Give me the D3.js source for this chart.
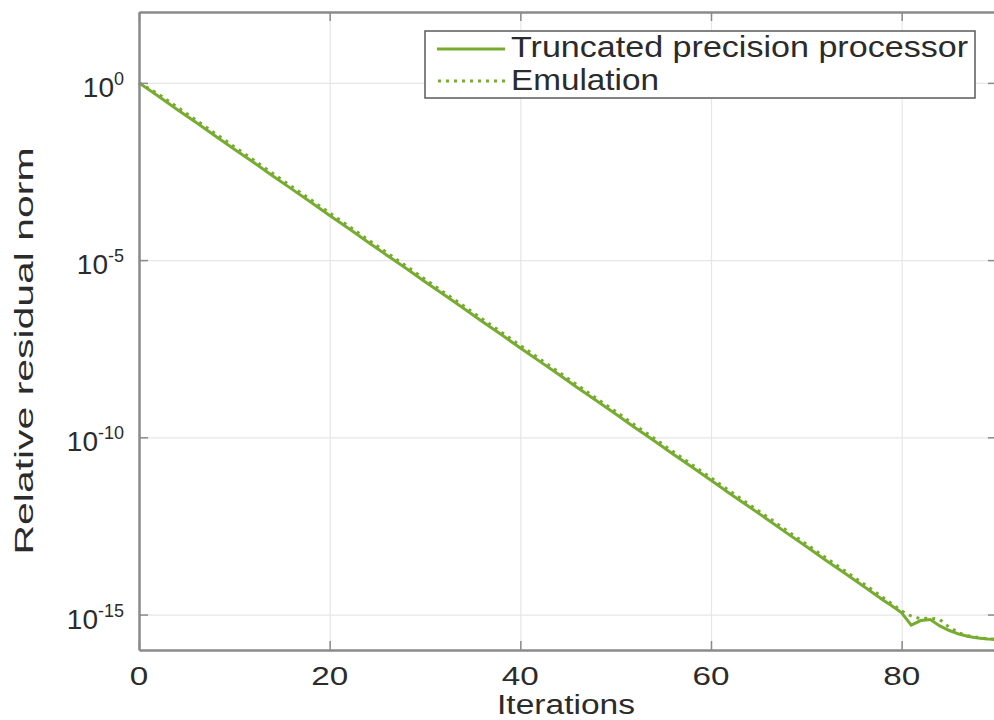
<!DOCTYPE html>
<html>
<head>
<meta charset="utf-8">
<script src="https://cdn.jsdelivr.net/npm/d3@7"></script>
<style>
  html, body { margin: 0; padding: 0; background: #fff; }
  svg { display: block; }
  text { font-family: "Liberation Sans", Arial, Helvetica, sans-serif; fill: #2b2b2b; }
</style>
</head>
<body>
<svg id="chart" width="994" height="720"></svg>
<script>
// ---- data (log10 of relative residual norm) ----
const iterations = [0,2,4,6,8,10,12,14,16,18,20,22,24,26,28,30,32,34,36,38,40,42,44,46,48,50,52,54,56,58,60,62,64,66,68,70,72,74,76,78,79,80,81,82,83,84,85,86,87,88,89,90];
const truncatedLog = [0,-0.37,-0.75,-1.12,-1.50,-1.87,-2.24,-2.62,-2.99,-3.36,-3.74,-4.11,-4.49,-4.86,-5.23,-5.61,-5.98,-6.35,-6.73,-7.10,-7.48,-7.85,-8.22,-8.60,-8.97,-9.34,-9.72,-10.09,-10.47,-10.84,-11.21,-11.59,-11.96,-12.33,-12.71,-13.08,-13.46,-13.83,-14.20,-14.58,-14.76,-14.95,-15.30,-15.17,-15.14,-15.32,-15.45,-15.55,-15.62,-15.66,-15.69,-15.70];
const emulationLog = [0,-0.31,-0.68,-1.05,-1.43,-1.80,-2.17,-2.55,-2.92,-3.29,-3.67,-4.04,-4.42,-4.79,-5.16,-5.54,-5.91,-6.28,-6.66,-7.03,-7.41,-7.78,-8.15,-8.53,-8.90,-9.27,-9.65,-10.02,-10.40,-10.77,-11.14,-11.52,-11.89,-12.26,-12.64,-13.01,-13.39,-13.76,-14.13,-14.51,-14.70,-14.90,-15.04,-15.12,-15.10,-15.14,-15.36,-15.52,-15.60,-15.65,-15.68,-15.70];
const xTicks = [0, 20, 40, 60, 80];
const yTickExponents = [0, -5, -10, -15];
const seriesNames = ["Truncated precision processor", "Emulation"];

const green = "#77ac30";
const svg = d3.select("#chart");

const plotLeft = 139, plotRight = 997, plotTop = 12, plotBottom = 650;
const x = d3.scaleLinear().domain([0, 90]).range([plotLeft, plotRight]);
const y = d3.scaleLog().domain([1e-16, 1e2]).range([plotBottom, plotTop]);
const yTicks = yTickExponents.map(e => Math.pow(10, e));

// grid
const grid = svg.append("g");
grid.append("g")
  .attr("transform", `translate(0,${plotBottom})`)
  .call(d3.axisBottom(x).tickValues(xTicks).tickSize(-(plotBottom - plotTop)).tickFormat(""))
  .call(g => g.select(".domain").remove())
  .call(g => g.selectAll("line").attr("stroke", "#e6e6e6").attr("stroke-width", 1.2));
grid.append("g")
  .attr("transform", `translate(${plotLeft},0)`)
  .call(d3.axisLeft(y).tickValues(yTicks).tickSize(-(plotRight - plotLeft)).tickFormat(""))
  .call(g => g.select(".domain").remove())
  .call(g => g.selectAll("line").attr("stroke", "#e6e6e6").attr("stroke-width", 1.2));

// lines
const data1 = iterations.map((it, i) => ({ it, v: Math.pow(10, truncatedLog[i]) }));
const data2 = iterations.map((it, i) => ({ it, v: Math.pow(10, emulationLog[i]) }));
const line = d3.line().x(d => x(d.it)).y(d => y(d.v));

svg.append("path").datum(data2).attr("d", line)
  .attr("fill", "none").attr("stroke", green).attr("stroke-width", 3)
  .attr("stroke-dasharray", "3,5");
svg.append("path").datum(data1).attr("d", line)
  .attr("fill", "none").attr("stroke", green).attr("stroke-width", 3);

// axes (box with inward ticks)
const axisColor = "#8a8a8a";
function styleAxis(g) {
  g.select(".domain").attr("stroke", axisColor).attr("stroke-width", 2.5);
  g.selectAll(".tick line").attr("stroke", axisColor).attr("stroke-width", 1.5);
}
svg.append("g").attr("transform", `translate(0,${plotBottom})`)
  .call(d3.axisBottom(x).tickValues(xTicks).tickSizeInner(-9).tickSizeOuter(0).tickFormat(""))
  .call(styleAxis);
svg.append("g").attr("transform", `translate(0,${plotTop})`)
  .call(d3.axisTop(x).tickValues(xTicks).tickSizeInner(-9).tickSizeOuter(0).tickFormat(""))
  .call(styleAxis);
svg.append("g").attr("transform", `translate(${plotLeft},0)`)
  .call(d3.axisLeft(y).tickValues(yTicks).tickSizeInner(-9).tickSizeOuter(0).tickFormat(""))
  .call(styleAxis);
svg.append("g").attr("transform", `translate(${plotRight},0)`)
  .call(d3.axisRight(y).tickValues(yTicks).tickSizeInner(-9).tickSizeOuter(0).tickFormat(""))
  .call(styleAxis);

// x tick labels
svg.append("g").selectAll("text").data(xTicks).join("text")
  .attr("x", d => x(d)).attr("y", 685)
  .attr("text-anchor", "middle").attr("font-size", 25)
  .attr("textLength", d => String(d).length * 18.5)
  .attr("lengthAdjust", "spacingAndGlyphs")
  .text(d => d);

// y tick labels 10^e
const yl = svg.append("g").selectAll("text").data(yTickExponents).join("text")
  .attr("x", 124).attr("y", d => y(Math.pow(10, d)) + 14)
  .attr("text-anchor", "end").attr("font-size", 28);
yl.append("tspan").text("10");
yl.append("tspan").attr("dy", -12).attr("font-size", 18).text(d => String(d));

// axis titles
svg.append("text").attr("x", 566).attr("y", 714)
  .attr("text-anchor", "middle").attr("font-size", 27)
  .attr("textLength", 138).attr("lengthAdjust", "spacingAndGlyphs")
  .text("Iterations");
svg.append("text").attr("transform", "translate(33,351) rotate(-90)")
  .attr("text-anchor", "middle").attr("font-size", 25)
  .attr("textLength", 407).attr("lengthAdjust", "spacingAndGlyphs")
  .text("Relative residual norm");

// legend
const lg = svg.append("g");
lg.append("rect").attr("x", 425).attr("y", 31).attr("width", 550).attr("height", 67)
  .attr("fill", "#fff").attr("stroke", "#5a5a5a").attr("stroke-width", 1.5);
lg.append("line").attr("x1", 437).attr("x2", 505).attr("y1", 49).attr("y2", 49)
  .attr("stroke", green).attr("stroke-width", 3);
lg.append("line").attr("x1", 438).attr("x2", 505).attr("y1", 81).attr("y2", 81)
  .attr("stroke", green).attr("stroke-width", 3).attr("stroke-dasharray", "3,5");
lg.append("text").attr("x", 511).attr("y", 57).attr("font-size", 29)
  .attr("textLength", 457).attr("lengthAdjust", "spacingAndGlyphs")
  .text(seriesNames[0]);
lg.append("text").attr("x", 511).attr("y", 90).attr("font-size", 29)
  .attr("textLength", 148).attr("lengthAdjust", "spacingAndGlyphs")
  .text(seriesNames[1]);
</script>
</body>
</html>
